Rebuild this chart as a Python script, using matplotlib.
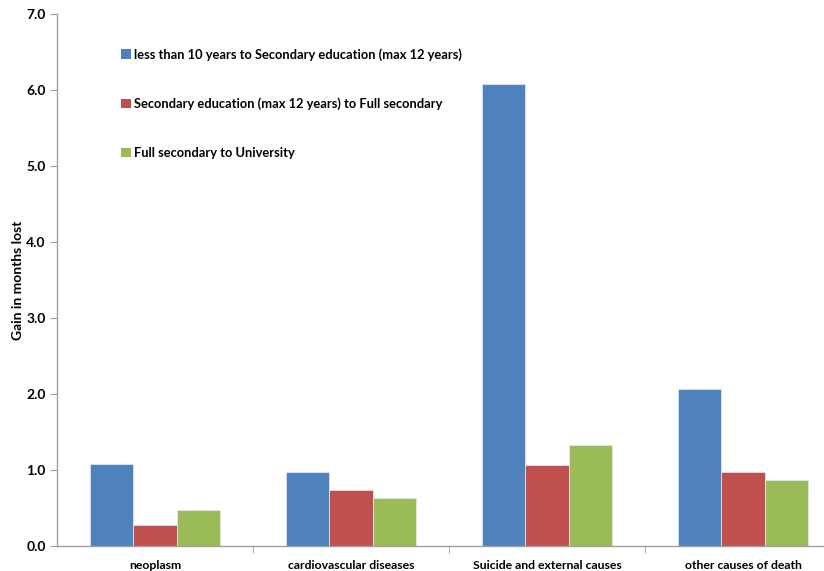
import numpy as np
import matplotlib.pyplot as plt
from matplotlib.patches import Patch

causes = ['neoplasm', 'cardiovascular diseases', 'Suicide and external causes', 'other causes of death']
series = [
    'less than 10 years to Secondary education (max 12 years)',
    'Secondary education (max 12 years) to Full secondary',
    'Full secondary to University',
]
low_to_secondary = [1.08, 0.97, 6.08, 2.07]
secondary_to_full = [0.27, 0.74, 1.07, 0.97]
full_to_university = [0.48, 0.63, 1.33, 0.87]
colors = ['#4F81BD', '#C0504D', '#9BBB59']

plt.rcParams['font.family'] = ['Lato', 'DejaVu Sans']
plt.rcParams['font.weight'] = 'bold'

fig = plt.figure(figsize=(8.24, 5.71), dpi=100)
ax = fig.add_axes([57 / 824, 25 / 571, 1 - 57 / 824, 532 / 571])

x = np.arange(len(causes))
w = 0.22
for i, (vals, c) in enumerate(zip([low_to_secondary, secondary_to_full, full_to_university], colors)):
    ax.bar(x + (i - 1) * w, vals, width=w, color=c, edgecolor='#dfe6ef', linewidth=0.6)

ax.set_xlim(-0.5, (824 - 57) / 196 - 0.5)
ax.set_ylim(0, 7)
ax.set_yticks(np.arange(0, 7.1, 1.0))
ax.set_yticklabels([f'{v:.1f}' for v in np.arange(0, 7.1, 1.0)], fontsize=10, fontweight='bold')
ax.set_xticks(x)
ax.set_xticklabels(causes, fontsize=8.8, fontweight='bold')
ax.set_xticks([0.5, 1.5, 2.5], minor=True)
ax.tick_params(axis='x', which='major', length=0, pad=10)
ax.tick_params(axis='x', which='minor', length=5, color='#a0a0a0', direction='out')
ax.tick_params(axis='y', length=5, color='#a0a0a0', direction='out', pad=3)

for s in ['top', 'right']:
    ax.spines[s].set_visible(False)
for s in ['left', 'bottom']:
    ax.spines[s].set_color('#a0a0a0')
    ax.spines[s].set_linewidth(1.0)

ax.set_ylabel('Gain in months lost', fontsize=10, fontweight='bold', labelpad=2)

handles = [Patch(facecolor=c, edgecolor='none') for c in colors]
ax.legend(handles, series, loc='upper left', bbox_to_anchor=(0.068, 0.958), frameon=False,
          handlelength=0.8, handleheight=0.8, handletextpad=0.25, labelspacing=2.85,
          prop={'family': ['Lato', 'DejaVu Sans'], 'weight': 'bold', 'size': 9.3})

fig.savefig('out.png', dpi=100)
